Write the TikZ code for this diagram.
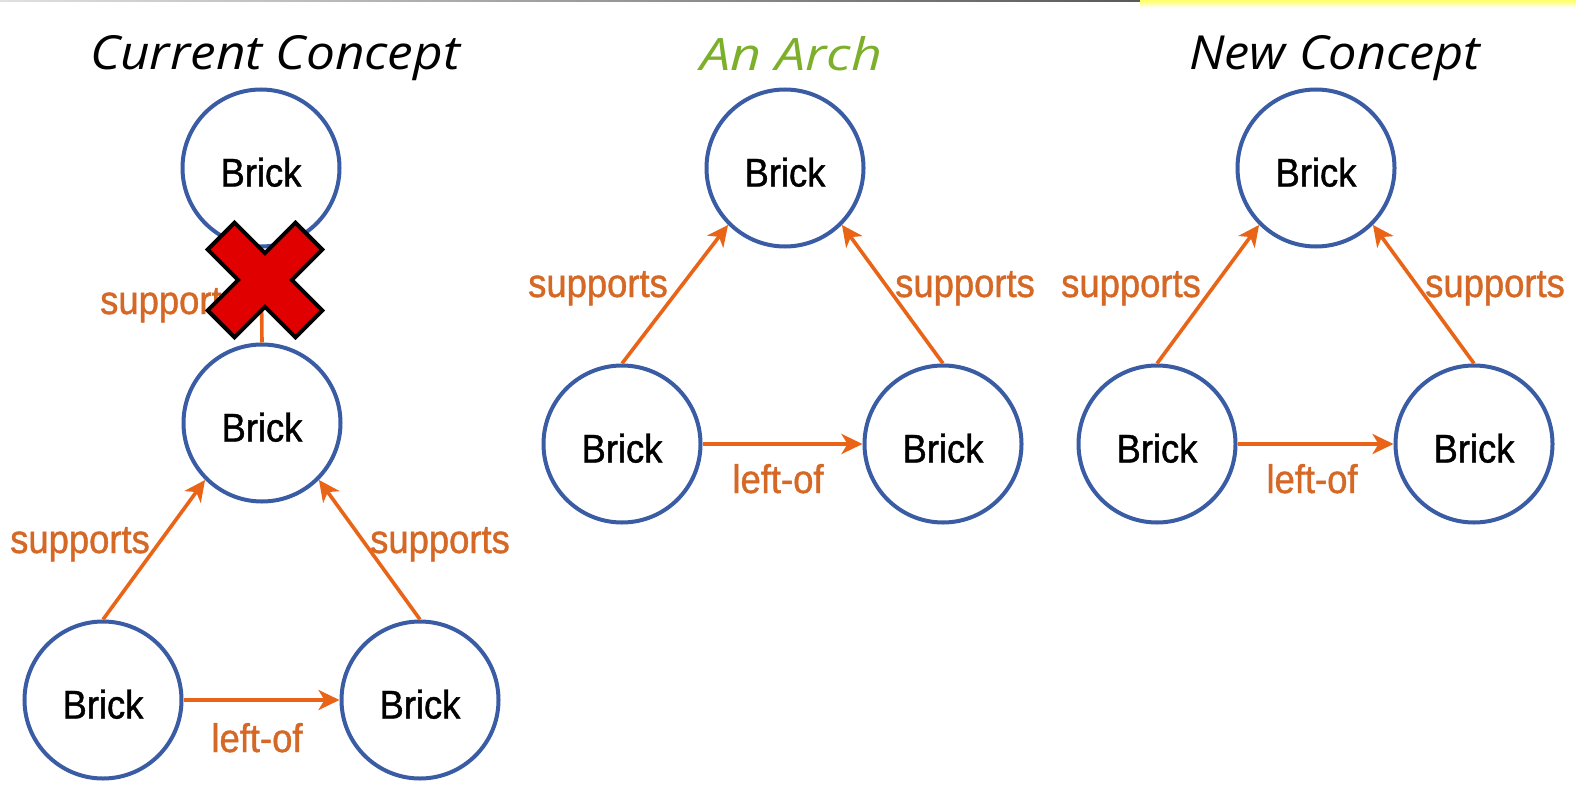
\documentclass[tikz,border=0pt]{standalone}
\usepackage{fontspec}
\usepackage{graphicx}
\usetikzlibrary{arrows.meta}
\setmainfont{Liberation Sans}
\newfontfamily\labelfont[FakeStretch=0.91,FakeBold=1.0]{Liberation Sans}
\newfontfamily\titlefont{Open Sans}

\definecolor{brickblue}{RGB}{58,92,164}
\definecolor{linkorange}{RGB}{234,100,24}
\definecolor{labelorange}{RGB}{214,104,38}
\definecolor{archgreen}{RGB}{125,176,42}
\definecolor{crossred}{RGB}{224,0,0}

\tikzset{
  brick/.style={circle, draw=brickblue, line width=4pt, minimum size=157pt,
    inner sep=0pt, fill=white, text height=37pt, text depth=0pt,
    font=\labelfont\fontsize{40}{40}\selectfont},
  link/.style={draw=linkorange, line width=3.6pt,
    -{Stealth[length=21pt,width=20pt,inset=6pt]}},
  rel/.style={text=labelorange, inner sep=0pt, anchor=base,
    font=\labelfont\fontsize{40}{40}\selectfont},
  heading/.style={anchor=base west, inner sep=0pt},
  cross/.style={fill=crossred, draw=black, line width=4pt, line join=miter},
}

\begin{document}
\begin{tikzpicture}[x=1pt, y=-1pt]
  \useasboundingbox (0,0) rectangle (1576,808);
  \fill[white] (0,0) rectangle (1576,808);

  % thin rule along the top edge
  \shade[left color=black!12, right color=black!65] (0,0) rectangle (1140,2);
  \shade[top color=yellow!60, bottom color=white] (1140,0) rectangle (1576,8);

  % headings
  \node[heading] (hcur) at (90,70)
    {\resizebox{370pt}{34pt}{\titlefont\itshape Current Concept}};
  \node[heading, text=archgreen] (harch) at (700,70)
    {\resizebox{182pt}{34pt}{\titlefont\itshape An Arch}};
  \node[heading] (hnew) at (1189,70)
    {\resizebox{291pt}{34pt}{\titlefont\itshape New Concept}};

  % current concept: a stack on top of two bricks
  \node[brick] (cT) at (261,168) {Brick};
  \node[brick] (cM) at (262,423) {Brick};
  \node[brick] (cL) at (103,700) {Brick};
  \node[brick] (cR) at (420,700) {Brick};
  \draw[link] (cM.north) -- (cT.south);
  \draw[link] (cL.north) -- (cM.-135);
  \draw[link] (cR.north) -- (cM.-45);
  \draw[link] (cL.east) -- (cR.west);
  \node[rel] (cs0) at (170,314) {supports};
  \node[rel] (cs1) at (80,553) {supports};
  \node[rel] (cs2) at (440,553) {supports};
  \node[rel] (clo) at (257,752) {left-of};

  % the arch
  \node[brick] (aT) at (785,168) {Brick};
  \node[brick] (aL) at (622,444) {Brick};
  \node[brick] (aR) at (943,444) {Brick};
  \draw[link] (aL.north) -- (aT.-135);
  \draw[link] (aR.north) -- (aT.-45);
  \draw[link] (aL.east) -- (aR.west);
  \node[rel] (as1) at (598,297) {supports};
  \node[rel] (as2) at (965,297) {supports};
  \node[rel] (alo) at (778,493) {left-of};

  % new concept
  \node[brick] (nT) at (1316,168) {Brick};
  \node[brick] (nL) at (1157,444) {Brick};
  \node[brick] (nR) at (1474,444) {Brick};
  \draw[link] (nL.north) -- (nT.-135);
  \draw[link] (nR.north) -- (nT.-45);
  \draw[link] (nL.east) -- (nR.west);
  \node[rel] (ns1) at (1131,297) {supports};
  \node[rel] (ns2) at (1495,297) {supports};
  \node[rel] (nlo) at (1312,493) {left-of};

  % red cross over the rejected support link
  \begin{scope}[shift={(265,280)}, rotate=45]
    \draw[cross] (19,62) -- (19,19) -- (62,19) -- (62,-19) -- (19,-19)
      -- (19,-62) -- (-19,-62) -- (-19,-19) -- (-62,-19) -- (-62,19)
      -- (-19,19) -- (-19,62) -- cycle;
  \end{scope}
\end{tikzpicture}
\end{document}
